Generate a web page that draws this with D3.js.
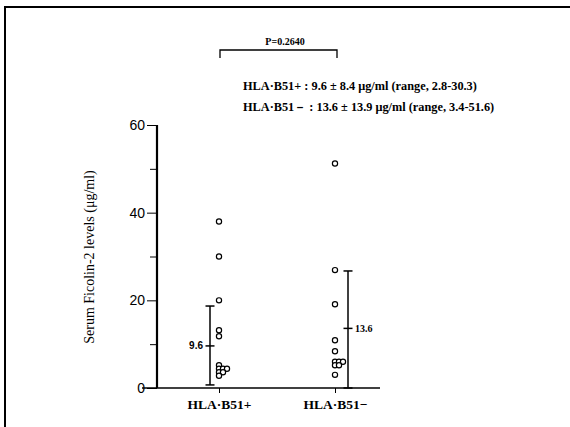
<!DOCTYPE html>
<html>
<head>
<meta charset="utf-8">
<script src="https://cdn.jsdelivr.net/npm/d3@7"></script>
<style>
  body { margin: 0; background: #fff; }
  svg { display: block; }
</style>
</head>
<body>
<div id="chart"></div>
<script>
// groups on the x axis
const categories = ["HLA·B51+", "HLA·B51−"];
// individual serum levels (µg/ml)
const b51pos = [38, 30, 20, 13.2, 11.8, 5.2, 4.4, 4.4, 4.4, 3.6, 3.6, 2.8];
const b51neg = [51.2, 26.9, 19.1, 10.9, 8.4, 6.0, 6.0, 6.0, 5.2, 5.2, 3.0];
// mean and error bar ends as drawn
const means = [9.6, 13.6];
const barLow = [0.7, 0];
const barHigh = [18.7, 26.7];
const meanLabels = ["9.6", "13.6"];
const majorTicks = [0, 20, 40, 60];
const minorTicks = [10, 30, 50];
const statLines = [
    "HLA·B51+ : 9.6 ± 8.4 μg/ml (range, 2.8-30.3)",
    "HLA·B51－ : 13.6 ± 13.9 μg/ml (range, 3.4-51.6)"
];
const pLabel = "P=0.2640";

const W = 570, H = 427;
const serif = "'Liberation Serif', 'DejaVu Serif', serif";
const sans = "'Liberation Sans', Arial, sans-serif";

const svg = d3.select("#chart").append("svg")
    .attr("width", W)
    .attr("height", H);

// scanned frame (top and left edges)
svg.append("path")
    .attr("d", `M5,${H} V7 H${W}`)
    .attr("fill", "none")
    .attr("stroke", "#000")
    .attr("stroke-width", 2);

const y = d3.scaleLinear().domain([0, 60]).range([388, 125]);
const x = d3.scalePoint().domain(categories).range([219, 335]);

// y axis
const yAxis = svg.append("g")
    .attr("transform", "translate(157,0)")
    .call(d3.axisLeft(y).tickValues(majorTicks).tickSize(10).tickPadding(2).tickFormat(d3.format("d")));
yAxis.select(".domain").attr("stroke-width", 2.2).attr("d", `M0,${y(0)}V${y(60)}`);
yAxis.selectAll("text").attr("font-family", sans).attr("font-size", 14).attr("fill", "#000");
yAxis.selectAll("line").attr("stroke-width", 1);

const yMinor = svg.append("g")
    .attr("transform", "translate(157,0)")
    .call(d3.axisLeft(y).tickValues(minorTicks).tickSize(7).tickFormat(""));
yMinor.select(".domain").remove();

// x axis
const xAxis = svg.append("g")
    .attr("transform", `translate(0,${y(0)})`)
    .call(d3.axisBottom(x).tickSize(5).tickPadding(6));
xAxis.select(".domain").attr("d", "M142,0H380").attr("stroke-width", 1.4);
xAxis.selectAll("text")
    .attr("font-family", serif)
    .attr("font-size", 13.5)
    .attr("font-weight", "bold")
    .attr("fill", "#000");

// y label
svg.append("text")
    .attr("transform", "translate(94,257) rotate(-90)")
    .attr("text-anchor", "middle")
    .attr("font-family", serif)
    .attr("font-size", 14)
    .text("Serum Ficolin-2 levels (μg/ml)");

// scatter points: equal values are placed side by side
const groups = [b51pos, b51neg];
groups.forEach((vals, gi) => {
    const seen = {};
    const pts = vals.map(v => {
        const k = seen[v] || 0;
        seen[v] = k + 1;
        return { v, k };
    });
    svg.append("g").selectAll("circle")
        .data(pts)
        .enter()
        .append("circle")
        .attr("cx", d => x(categories[gi]) + d.k * 4)
        .attr("cy", d => y(d.v))
        .attr("r", 2.6)
        .attr("fill", "#fff")
        .attr("stroke", "#000")
        .attr("stroke-width", 1.2);
});

// mean +/- SD bars
categories.forEach((c, i) => {
    const side = i === 0 ? -1 : 1;
    const bx = x(c) + (i === 0 ? -9 : 13);
    const g = svg.append("g").attr("stroke", "#000").attr("stroke-width", 1.5);
    g.append("line").attr("x1", bx).attr("x2", bx).attr("y1", y(barLow[i])).attr("y2", y(barHigh[i]));
    [barLow[i], barHigh[i], means[i]].forEach(v => {
        g.append("line").attr("x1", bx - 4.5).attr("x2", bx + 4.5).attr("y1", y(v)).attr("y2", y(v));
    });
    svg.append("text")
        .attr("x", bx + side * 7)
        .attr("y", y(means[i]) + 3.5)
        .attr("text-anchor", side < 0 ? "end" : "start")
        .attr("font-family", i === 0 ? sans : serif)
        .attr("font-size", 10)
        .attr("font-weight", "bold")
        .text(meanLabels[i]);
});

// significance bracket
svg.append("path")
    .attr("d", `M${x(categories[0]) + 1},58 V50 H${x(categories[1]) + 2} V58`)
    .attr("fill", "none")
    .attr("stroke", "#000")
    .attr("stroke-width", 1.3);
svg.append("text")
    .attr("x", (x(categories[0]) + x(categories[1])) / 2 + 8)
    .attr("y", 45)
    .attr("text-anchor", "middle")
    .attr("font-family", serif)
    .attr("font-size", 10)
    .attr("font-weight", "bold")
    .text(pLabel);

// summary lines
svg.append("g").selectAll("text")
    .data(statLines)
    .enter()
    .append("text")
    .attr("x", 243)
    .attr("y", (d, i) => 90 + i * 21)
    .attr("font-family", serif)
    .attr("font-size", 12.3)
    .attr("font-weight", "bold")
    .text(d => d);
</script>
</body>
</html>
